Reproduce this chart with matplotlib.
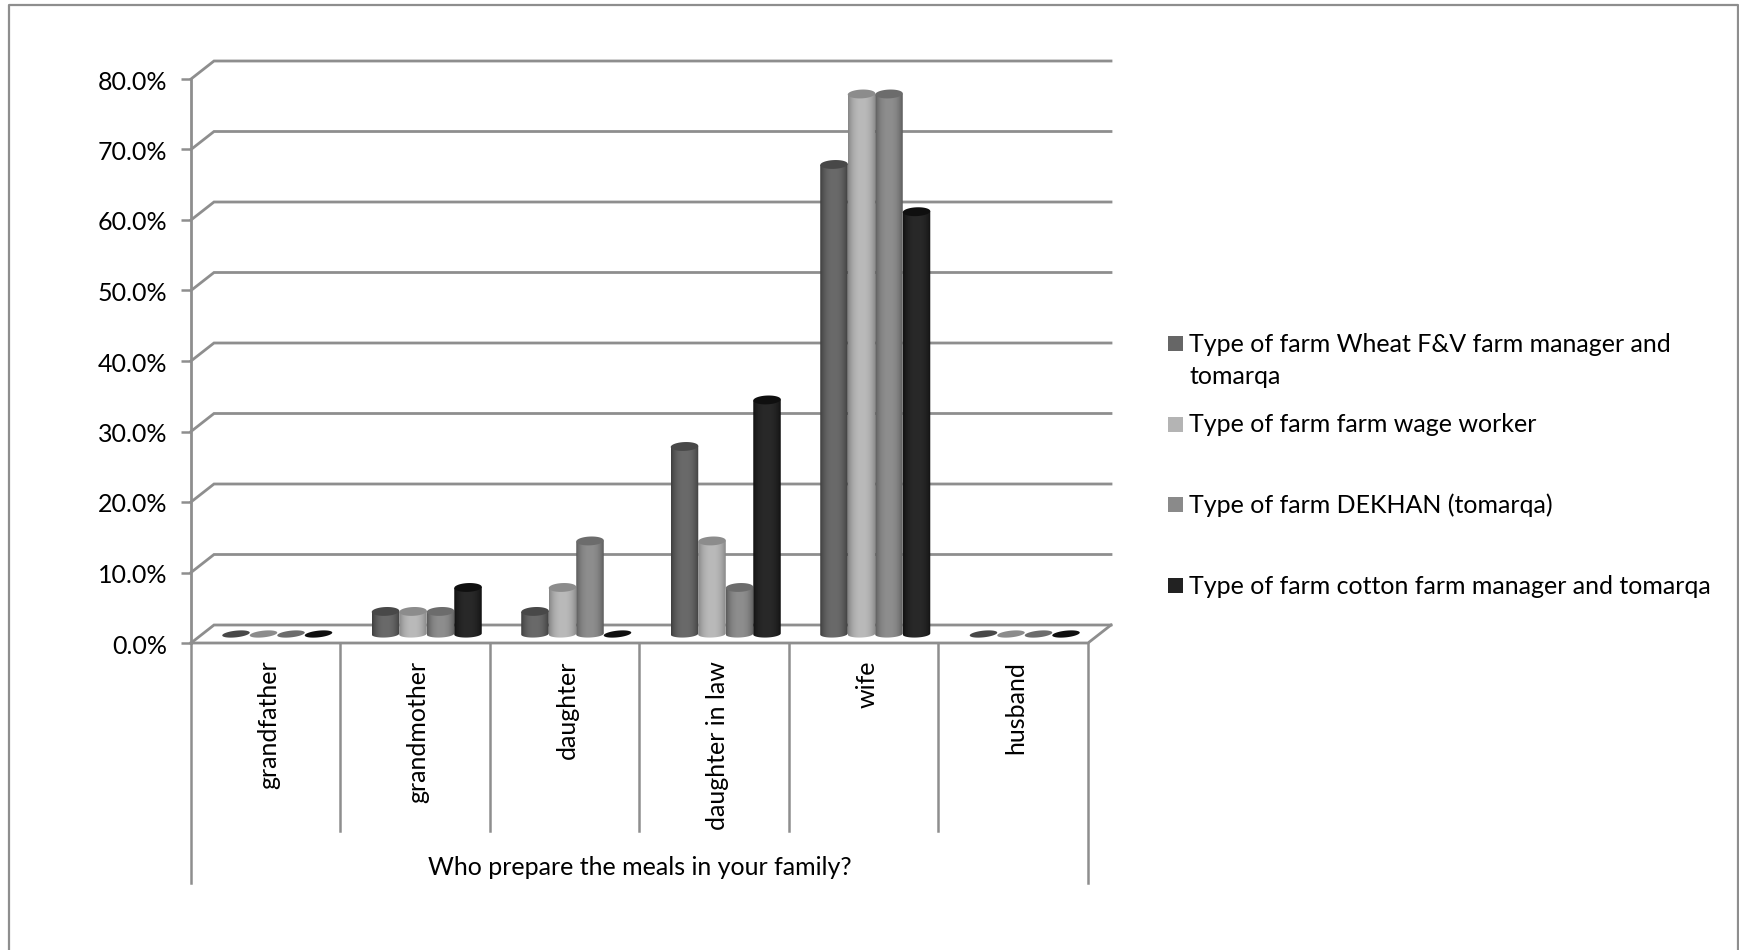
import numpy as np
import matplotlib
matplotlib.use('Agg')
import matplotlib.pyplot as plt
from matplotlib.colors import to_rgb
from matplotlib.patches import PathPatch, Polygon, Rectangle
from matplotlib.path import Path
from matplotlib.ticker import PercentFormatter
from matplotlib.transforms import ScaledTranslation

plt.rcParams['font.family'] = ['Lato', 'DejaVu Sans']

# dados
categorias = ['grandfather', 'grandmother', 'daughter', 'daughter in law', 'wife', 'husband']
wheat_fv = [0.0, 3.3, 3.3, 26.7, 66.7, 0.0]
wage_worker = [0.0, 3.3, 6.7, 13.3, 76.7, 0.0]
dekhan = [0.0, 3.3, 13.3, 6.7, 76.7, 0.0]
cotton = [0.0, 6.7, 0.0, 33.3, 60.0, 0.0]
series = [wheat_fv, wage_worker, dekhan, cotton]
legendas = ['Type of farm Wheat F&V farm manager and\ntomarqa',
            'Type of farm farm wage worker',
            'Type of farm DEKHAN (tomarqa)',
            'Type of farm cotton farm manager and tomarqa']
titulo_eixo = 'Who prepare the meals in your family?'
ticks_y = [0, 10, 20, 30, 40, 50, 60, 70, 80]

# borda, centro, topo e legenda de cada serie
cores = [('#3e3e3e', '#6a6a6a', '#484848', '#666666'),
         ('#868686', '#bababa', '#8c8c8c', '#b4b4b4'),
         ('#5c5c5c', '#8e8e8e', '#6c6c6c', '#8a8a8a'),
         ('#121212', '#292929', '#0f0f0f', '#222222')]

LARGURA, ALTURA = 1739, 950
COR_LINHA = '#8e8e8e'
TAM = 18

# profundidade do "3D" em unidades dos dados
DX = 23 / 149.5
DY = 18 / 7.05
LARG_BARRA = 0.184
ALT_TOPO = 1.25
ALT_BASE = 1.0
INCLINA = 0.08

fig = plt.figure(figsize=(LARGURA / 100, ALTURA / 100), dpi=100, facecolor='white')

# eixo auxiliar em pixels para moldura e legenda
aux = fig.add_axes([0, 0, 1, 1])
aux.set_xlim(0, LARGURA)
aux.set_ylim(ALTURA, 0)
aux.axis('off')
aux.plot([9, 9, 1738, 1738], [952, 5, 5, 952], color=COR_LINHA, lw=1.6, clip_on=False)

ax = fig.add_axes([191 / LARGURA, (ALTURA - 643) / ALTURA, 897 / LARGURA, 564 / ALTURA])
ax.patch.set_alpha(0)
ax.set_xlim(0, 6)
ax.set_ylim(0, 80)
ax.autoscale(False)
for lado in ['top', 'right', 'bottom']:
    ax.spines[lado].set_visible(False)
ax.spines['left'].set_color(COR_LINHA)
ax.spines['left'].set_linewidth(2.0)
ax.set_xticks([])
ax.set_yticks(ticks_y)
ax.yaxis.set_major_formatter(PercentFormatter(decimals=1))
ax.tick_params(axis='y', color=COR_LINHA, width=1.8, length=7, labelsize=TAM, pad=10)
for rotulo in ax.get_yticklabels():
    rotulo.set_transform(rotulo.get_transform() + ScaledTranslation(0, -1 / 100, fig.dpi_scale_trans))

# grade: parede do fundo e linhas inclinadas
for t in ticks_y:
    ax.plot([0, DX, 6 + DX], [t, t + DY, t + DY], color=COR_LINHA, lw=2.0, clip_on=False,
            solid_joinstyle='miter', zorder=1)

# chao
ax.plot([0, 6, 6 + DX], [0, 0, DY], color=COR_LINHA, lw=2.0, clip_on=False, zorder=1)

# divisorias das categorias
for i in range(7):
    fim = -34 if i in (0, 6) else -26.7
    ax.plot([i, i], [0, fim], color=COR_LINHA, lw=1.8, clip_on=False, zorder=1)
for i, nome in enumerate(categorias):
    ax.text(i + 0.52, -2.5, nome, rotation=90, ha='center', va='top', fontsize=TAM)
ax.text(3, -31.8, titulo_eixo, ha='center', va='center', fontsize=TAM)


def elipse(x, y, altura, ang, inclina=INCLINA):
    # elipse levemente inclinada, como vista em perspectiva
    xs = x + LARG_BARRA / 2 * np.cos(ang)
    ys = y + altura / 2 * np.sin(ang) + inclina * np.cos(ang)
    return np.column_stack([xs, ys])


def cilindro(x, valor, cor):
    base = DY / 2
    esq = x - LARG_BARRA / 2
    dir_ = x + LARG_BARRA / 2
    volta = np.linspace(0, 2 * np.pi, 60)
    if valor == 0:
        # sem altura: so a elipse no chao
        ax.add_patch(Polygon(elipse(x, base, 0.95, volta, 0.2), fc=cor[2], ec='none',
                             zorder=3, clip_on=False))
        return
    topo = base + valor - 0.1
    # contorno: metade inferior da elipse e lados retos
    fundo = elipse(x, base, ALT_BASE, np.linspace(np.pi, 2 * np.pi, 30))
    vert = np.vstack([fundo, [dir_, topo + INCLINA], [esq, topo - INCLINA], fundo[0]])
    clip = PathPatch(Path(vert), transform=ax.transData, fc='none', ec='none')
    ax.add_patch(clip)
    borda = np.array(to_rgb(cor[0]))
    centro = np.array(to_rgb(cor[1]))
    u = np.linspace(-1, 1, 64)
    peso = np.clip(1 - np.abs(u) ** 2.5, 0, 1)[None, :, None]
    grad = borda + (centro - borda) * peso
    im = ax.imshow(grad, extent=[esq, dir_, base - ALT_BASE, topo + 1], aspect='auto',
                   zorder=3, interpolation='bilinear')
    im.set_clip_path(clip)
    ax.add_patch(Polygon(elipse(x, topo, ALT_TOPO, volta), fc=cor[2], ec='none',
                         zorder=3, clip_on=False))


for j, valores in enumerate(series):
    for i, v in enumerate(valores):
        cilindro(i + 0.5 + DX / 2 + (j - 1.5) * LARG_BARRA, v, cores[j])
ax.set_xlim(0, 6)
ax.set_ylim(0, 80)

# legenda montada a mao por causa do espacamento irregular
centros = [344, 425, 505, 586]
for nome, yc, cor in zip(legendas, centros, cores):
    aux.add_patch(Rectangle((1168, yc - 8.5), 15, 15, fc=cor[3], ec='none'))
    primeira, *resto = nome.split('\n')
    aux.text(1189, yc, primeira, ha='left', va='center', fontsize=TAM)
    if resto:
        aux.text(1189, yc + 33, resto[0], ha='left', va='center', fontsize=TAM)

fig.savefig('out.png', dpi=100)
